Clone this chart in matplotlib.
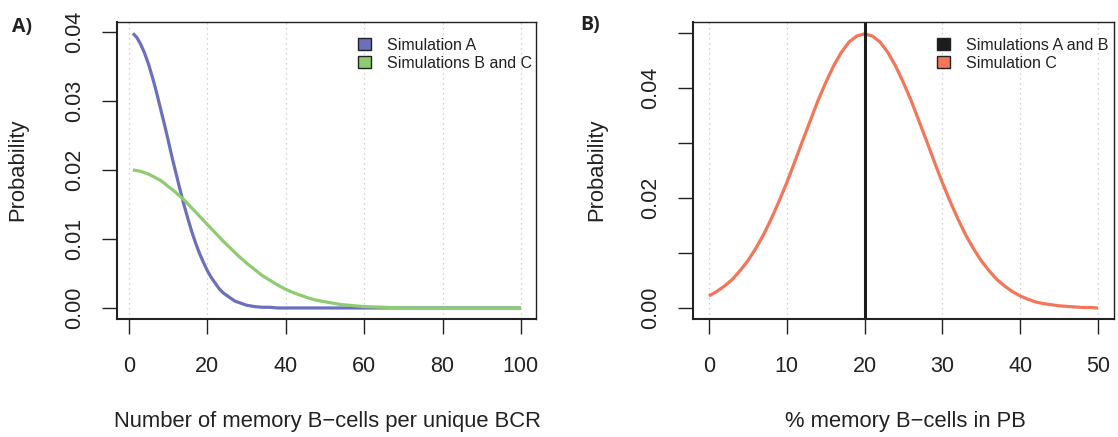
import matplotlib
matplotlib.use('Agg')
import matplotlib.pyplot as plt
from matplotlib.patches import Patch

plt.rcParams['font.family'] = ['Liberation Sans', 'DejaVu Sans']
plt.rcParams['text.color'] = '#222222'

# panel A: number of memory B-cells per unique BCR
x_sim_a = [1, 2, 3, 4, 5, 6, 7, 8, 9, 10, 11, 12, 13, 14, 15, 16, 17, 18, 19, 20,
           21, 22, 23, 24, 25, 26, 27, 28, 29, 30, 31, 32, 34, 36, 38, 40,
           50, 60, 70, 80, 90, 100]
p_sim_a = [0.0398, 0.0392, 0.0382, 0.0369, 0.0353, 0.0334, 0.0313, 0.0290, 0.0267, 0.0243,
           0.0218, 0.0195, 0.0172, 0.0150, 0.0130, 0.0111, 0.0094, 0.0079, 0.0066, 0.0054,
           0.0044, 0.0036, 0.0028, 0.0022, 0.0018, 0.0014, 0.0010, 0.0008, 0.0006, 0.0004,
           0.0003, 0.0002, 0.0001, 0.0001, 0.0000, 0.0000,
           0.0, 0.0, 0.0, 0.0, 0.0, 0.0]
x_sim_bc = [1, 2, 3, 4, 5, 6, 7, 8, 9, 10, 11, 12, 13, 14, 15, 16, 17, 18, 19, 20,
            22, 24, 26, 28, 30, 32, 34, 36, 38, 40, 42, 44, 46, 48, 50, 52, 54, 56, 58, 60,
            65, 70, 80, 90, 100]
p_sim_bc = [0.0200, 0.0199, 0.0198, 0.0196, 0.0194, 0.0191, 0.0188, 0.0185, 0.0181, 0.0176,
            0.0172, 0.0167, 0.0162, 0.0157, 0.0151, 0.0145, 0.0139, 0.0133, 0.0127, 0.0121,
            0.0109, 0.0097, 0.0086, 0.0075, 0.0065, 0.0056, 0.0047, 0.0040, 0.0033, 0.0027,
            0.0022, 0.0018, 0.0014, 0.0011, 0.0009, 0.0007, 0.0005, 0.0004, 0.0003, 0.0002,
            0.0001, 0.0000, 0.0, 0.0, 0.0]

# panel B: % memory B-cells in PB
x_pb = list(range(0, 51))
p_sim_c = [0.0022, 0.0030, 0.0040, 0.0052, 0.0068, 0.0086, 0.0108, 0.0133, 0.0162, 0.0194,
           0.0228, 0.0265, 0.0303, 0.0340, 0.0377, 0.0410, 0.0440, 0.0465, 0.0484, 0.0495,
           0.0499, 0.0495, 0.0484, 0.0465, 0.0440, 0.0410, 0.0377, 0.0340, 0.0303, 0.0265,
           0.0228, 0.0194, 0.0162, 0.0133, 0.0108, 0.0086, 0.0068, 0.0052, 0.0040, 0.0030,
           0.0022, 0.0016, 0.0011, 0.0008, 0.0006, 0.0004, 0.0003, 0.0002, 0.0001, 0.0001,
           0.0000]
x_sim_ab = 20

col_a = '#6b70bd'
col_bc = '#8fcb70'
col_c = '#f3765a'
col_ab = '#1c1c1c'
fg = '#222222'

fig = plt.figure(figsize=(11.18, 4.37), dpi=100)
ax1 = fig.add_axes([0.105, 0.270, 0.3748, 0.679])
ax2 = fig.add_axes([0.6202, 0.270, 0.3758, 0.679])


def style_axes(ax, xticks, yticks, ylabels):
    ax.set_xticks(xticks)
    ax.set_yticks(yticks)
    ax.set_yticklabels(ylabels, rotation=90, va='center')
    for xt in xticks:
        ax.axvline(xt, color='#c4c4c4', lw=0.9, ls=(0, (1, 3)), zorder=0)
    ax.tick_params(axis='both', direction='out', length=10.5, width=1.0, color=fg,
                   labelsize=15.5, labelcolor=fg)
    ax.tick_params(axis='x', pad=16)
    ax.tick_params(axis='y', pad=13)
    for side in ['top', 'right']:
        ax.spines[side].set_linewidth(1.0)
        ax.spines[side].set_color(fg)
    for side in ['left', 'bottom']:
        ax.spines[side].set_linewidth(1.5)
        ax.spines[side].set_color(fg)


# A)
ax1.plot(x_sim_a, p_sim_a, color=col_a, lw=2.3, solid_capstyle='butt')
ax1.plot(x_sim_bc, p_sim_bc, color=col_bc, lw=2.3, solid_capstyle='butt')
ax1.set_xlim(-2.96, 103.96)
ax1.set_ylim(-0.0016, 0.0414)
style_axes(ax1, [0, 20, 40, 60, 80, 100], [0.00, 0.01, 0.02, 0.03, 0.04],
           ['0.00', '0.01', '0.02', '0.03', '0.04'])
ax1.legend(handles=[Patch(facecolor=col_a, edgecolor=fg, lw=1.0, label='Simulation A'),
                    Patch(facecolor=col_bc, edgecolor=fg, lw=1.0, label='Simulations B and C')],
           loc='upper left', bbox_to_anchor=(0.575, 0.948), frameon=False, fontsize=11.5,
           handlelength=0.8, handleheight=0.8, handletextpad=1.0, labelspacing=0.2,
           borderpad=0, borderaxespad=0)

# B)
ax2.plot(x_pb, p_sim_c, color=col_c, lw=2.3, solid_capstyle='butt')
ax2.axvline(x_sim_ab, color=col_ab, lw=2.2)
ax2.set_xlim(-2, 52)
ax2.set_ylim(-0.002, 0.052)
style_axes(ax2, [0, 10, 20, 30, 40, 50], [0.00, 0.01, 0.02, 0.03, 0.04, 0.05],
           ['0.00', '', '0.02', '', '0.04', ''])
ax2.legend(handles=[Patch(facecolor=col_ab, edgecolor=fg, lw=1.0, label='Simulations A and B'),
                    Patch(facecolor=col_c, edgecolor=fg, lw=1.0, label='Simulation C')],
           loc='upper left', bbox_to_anchor=(0.58, 0.948), frameon=False, fontsize=11.5,
           handlelength=0.8, handleheight=0.8, handletextpad=1.0, labelspacing=0.2,
           borderpad=0, borderaxespad=0)

# axis titles and panel letters
fig.text(327 / 1118, 1 - 421 / 437, 'Number of memory B\u2212cells per unique BCR',
         ha='center', va='center', fontsize=15.8, color=fg)
fig.text(905 / 1118, 1 - 421 / 437, '% memory B\u2212cells in PB',
         ha='center', va='center', fontsize=15.8, color=fg)
fig.text(18 / 1118, 1 - 170 / 437, 'Probability', rotation=90,
         ha='center', va='center', fontsize=15.8, color=fg)
fig.text(597 / 1118, 1 - 170 / 437, 'Probability', rotation=90,
         ha='center', va='center', fontsize=15.8, color=fg)
fig.text(22 / 1118, 1 - 27 / 437, 'A)', ha='center', va='center', fontsize=14,
         fontweight='bold', family=['Open Sans', 'DejaVu Sans'], color=fg)
fig.text(590 / 1118, 1 - 25 / 437, 'B)', ha='center', va='center', fontsize=14,
         fontweight='bold', family=['Open Sans', 'DejaVu Sans'], color=fg)

fig.savefig('out.png', dpi=100)
